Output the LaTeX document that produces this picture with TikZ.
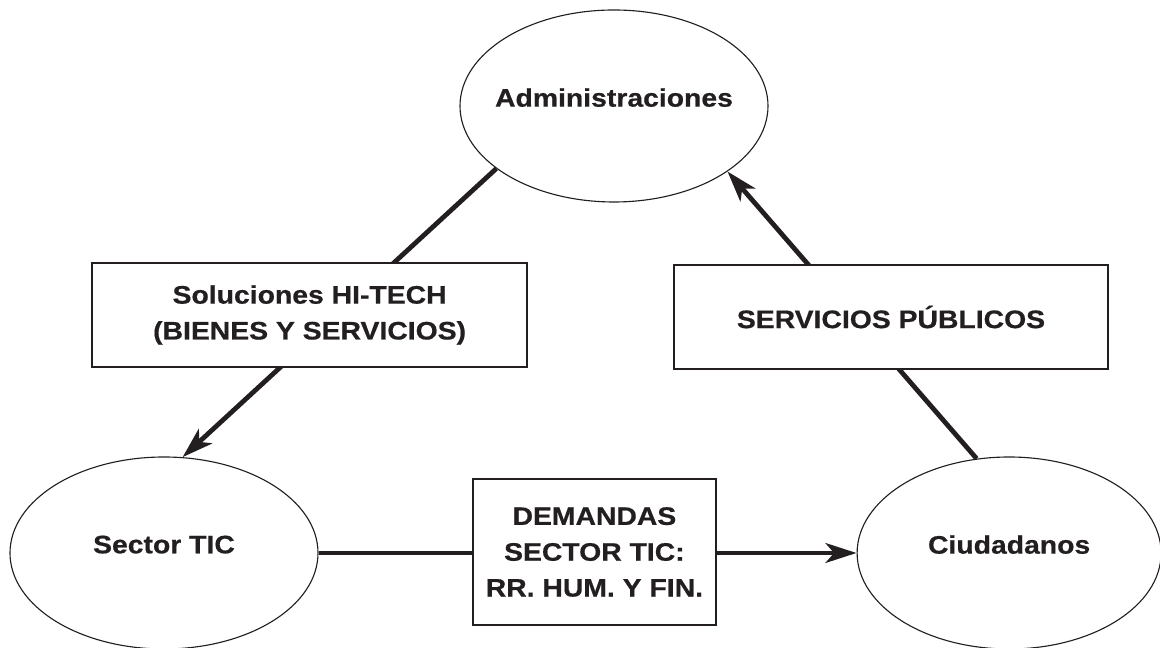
\documentclass[tikz,border=0pt]{standalone}
\usepackage{fontspec}
\setmainfont{Liberation Sans}[FakeStretch=1.12,FakeBold=0.6]
\usetikzlibrary{arrows.meta,positioning,shapes.geometric}

\definecolor{ink}{HTML}{231F20}

\tikzset{
  actor/.style={ellipse, draw=ink, line width=0.8pt,
                minimum width=7.7cm, minimum height=4.8cm, inner sep=0pt},
  actortext/.style={text=ink, yshift=0.21cm,
                    font=\bfseries\fontsize{18}{25}\selectfont},
  flow/.style={rectangle, draw=ink, line width=1pt, fill=white,
               align=center, text=ink, inner sep=0pt,
               font=\bfseries\fontsize{18}{25.5}\selectfont},
  link/.style={draw=ink, line width=3.4pt,
               -{Stealth[length=22pt,width=14pt,inset=6pt]}}
}

\begin{document}
\begin{tikzpicture}
\useasboundingbox (0,0) rectangle (29,16.2);

\node[actor, label={[actortext]center:Administraciones}] (admin)  at (15.35,13.55) {};
\node[actor, label={[actortext]center:Sector TIC}]       (sector) at (4.1,2.375)   {};
\node[actor, minimum width=7.6cm, label={[actortext]center:Ciudadanos}]
                  (ciudadanos) [right=13.45cm of sector] {};

% flows between the actors
\draw[link] (admin.208)      -- (sector.79);
\draw[link] (ciudadanos.109) -- (admin.330);
\draw[link] (sector.east)    -- (ciudadanos.west);

\node[flow, minimum width=10.875cm, minimum height=2.6cm]
                  (soluciones) at (7.74,8.325)
                  {Soluciones HI-TECH\\(BIENES Y SERVICIOS)};
\node[flow, minimum width=10.85cm, minimum height=2.6cm]
                  (servicios)  at (22.275,8.275)
                  {SERVICIOS PÚBLICOS};
\node[flow, minimum width=6.075cm, minimum height=3.65cm]
                  (demandas)   at (14.86,2.4)
                  {DEMANDAS\\SECTOR TIC:\\RR. HUM. Y FIN.};
\end{tikzpicture}
\end{document}
